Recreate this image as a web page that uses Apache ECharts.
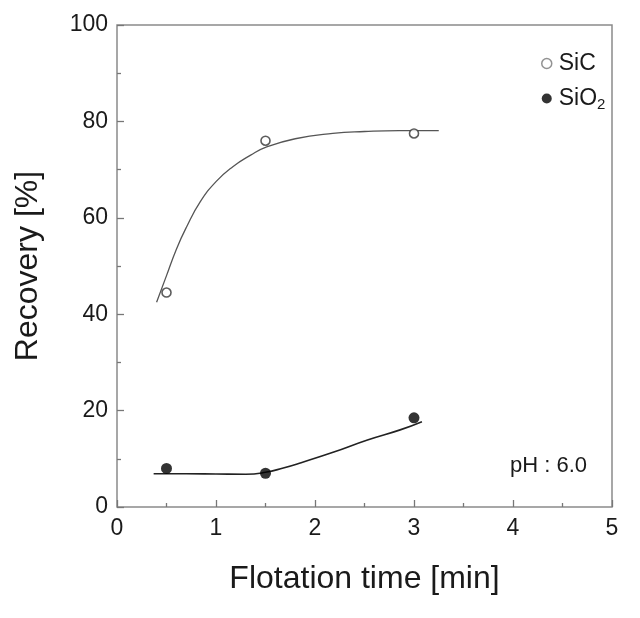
<!DOCTYPE html>
<html>
<head>
<meta charset="utf-8">
<script src="https://cdn.jsdelivr.net/npm/echarts@6/dist/echarts.min.js"></script>
<style>html,body{margin:0;padding:0;background:#fff;}#c{width:640px;height:618px;}</style>
</head>
<body>
<div id="c"></div>
<script>
const timeMin = [0.5, 1.5, 3];
const sicRecovery = [44.5, 76, 77.5];
const sio2Recovery = [8, 7, 18.5];
const sicFitX = [0.40, 0.5, 0.6, 0.7, 0.84, 1.0, 1.17, 1.35, 1.5, 1.8, 2.18, 2.5, 2.85, 3.25];
const sicFitY = [42.5, 48, 53.5, 58, 63.3, 67.5, 70.6, 73.0, 74.6, 76.4, 77.5, 77.9, 78.1, 78.1];
const sio2FitX = [0.37, 0.7, 1.0, 1.3, 1.5, 1.68, 1.86, 2.19, 2.53, 2.86, 3.08];
const sio2FitY = [6.9, 6.9, 6.85, 6.8, 7.2, 8.1, 9.2, 11.4, 13.9, 16.0, 17.7];
const xTicks = [0, 1, 2, 3, 4, 5];
const yTicks = [0, 20, 40, 60, 80, 100];

const FONT = '"Liberation Sans", Arial, sans-serif';
const zip = (a, b) => a.map((v, i) => [v, b[i]]);

const chart = echarts.init(document.getElementById('c'), null, {renderer: 'canvas'});
chart.setOption({
  animation: false,
  backgroundColor: '#fff',
  grid: {left: 117, right: 28, top: 25, bottom: 111, show: true, borderColor: '#8a8a8a', borderWidth: 1.5, backgroundColor: 'transparent'},
  xAxis: {
    type: 'value', min: xTicks[0], max: xTicks[xTicks.length - 1], interval: 1,
    name: 'Flotation time [min]', nameLocation: 'middle', nameGap: 56,
    nameTextStyle: {fontFamily: FONT, fontSize: 32, color: '#1a1a1a'},
    axisLine: {show: false},
    axisTick: {show: true, inside: true, length: 7, lineStyle: {color: '#777', width: 1.3}},
    minorTick: {show: true, splitNumber: 2, length: 4, lineStyle: {color: '#777', width: 1.3}},
    splitLine: {show: false},
    axisLabel: {fontFamily: FONT, fontSize: 23, color: '#1a1a1a', margin: 10}
  },
  yAxis: {
    type: 'value', min: yTicks[0], max: yTicks[yTicks.length - 1], interval: 20,
    name: 'Recovery [%]', nameLocation: 'middle', nameGap: 73, nameRotate: 90,
    nameTextStyle: {fontFamily: FONT, fontSize: 32, color: '#1a1a1a'},
    axisLine: {show: false},
    axisTick: {show: true, inside: true, length: 7, lineStyle: {color: '#777', width: 1.3}},
    minorTick: {show: true, splitNumber: 2, length: 4, lineStyle: {color: '#777', width: 1.3}},
    splitLine: {show: false},
    axisLabel: {fontFamily: FONT, fontSize: 23, color: '#1a1a1a', margin: 9}
  },
  legend: {
    orient: 'vertical', left: 536, top: 47, itemGap: 12, itemWidth: 10, itemHeight: 10,
    selectedMode: false,
    formatter: n => n === 'SiO2' ? 'SiO{sub|2}' : n,
    textStyle: {fontFamily: FONT, fontSize: 23, color: '#1a1a1a', padding: [0, 0, 0, 2],
      rich: {sub: {fontFamily: FONT, fontSize: 15, color: '#1a1a1a', padding: [12, 0, 0, 0]}}},
    data: [
      {name: 'SiC', icon: 'circle', itemStyle: {color: '#fff', borderColor: '#777', borderWidth: 1.5}},
      {name: 'SiO2', icon: 'circle', itemStyle: {color: '#000', borderWidth: 0}}
    ]
  },
  graphic: [{
    type: 'text', left: 510, top: 455,
    style: {text: 'pH : 6.0', fontFamily: FONT, fontSize: 22, fill: '#1a1a1a'}
  }],
  series: [
    {name: 'SiC fit', type: 'line', data: zip(sicFitX, sicFitY), smooth: true, showSymbol: false,
      lineStyle: {color: '#555', width: 1.3}, z: 2},
    {name: 'SiO2 fit', type: 'line', data: zip(sio2FitX, sio2FitY), smooth: true, showSymbol: false,
      lineStyle: {color: '#222', width: 1.6}, z: 2},
    {name: 'SiC', type: 'scatter', data: zip(timeMin, sicRecovery), symbol: 'circle', symbolSize: 9,
      itemStyle: {color: '#fff', borderColor: '#333', borderWidth: 1.6}, z: 3},
    {name: 'SiO2', type: 'scatter', data: zip(timeMin, sio2Recovery), symbol: 'circle', symbolSize: 11,
      itemStyle: {color: '#000'}, z: 3}
  ]
});
</script>
</body>
</html>
